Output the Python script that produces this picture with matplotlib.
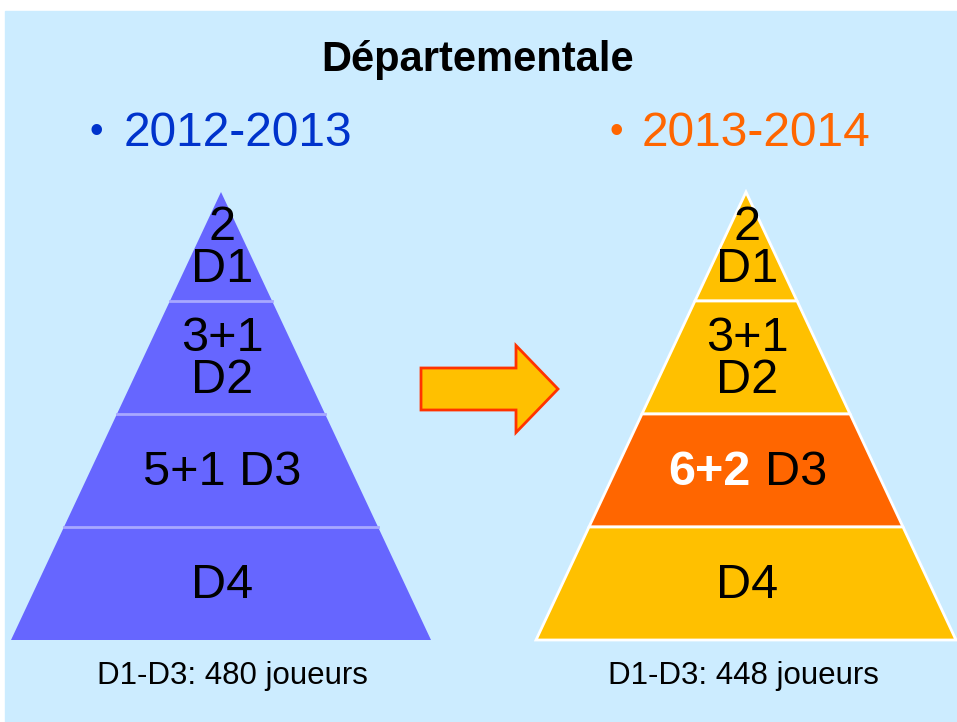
import matplotlib.pyplot as plt
import matplotlib.patches as mpatches

plt.rcParams['font.family'] = ['Liberation Sans', 'DejaVu Sans']

# pyramid data (band boundaries in image pixel units, top to bottom)
band_edges = [192, 301, 414, 527, 640]
left_apex_x = 221
right_apex_x = 746
base_half = 210

left_labels = ["2\nD1", "3+1\nD2", "5+1 D3", "D4"]
right_labels = ["2\nD1", "3+1\nD2", "", "D4"]
right_colors = ["#FFC000", "#FFC000", "#FF6600", "#FFC000"]
left_color = "#6666FF"

years = ["2012-2013", "2013-2014"]
year_colors = ["#0033CC", "#FF6600"]
totals = ["D1-D3: 480 joueurs", "D1-D3: 448 joueurs"]

W, H = 957, 722
fig = plt.figure(figsize=(W / 100, H / 100), dpi=100)
ax = fig.add_axes([0, 0, 1, 1])
ax.set_xlim(0, W)
ax.set_ylim(H, 0)
ax.axis("off")

ax.add_patch(mpatches.Rectangle((5, 11), W, H, color="#CCECFF", zorder=0))


def half_width(y):
    return base_half * (y - band_edges[0]) / (band_edges[-1] - band_edges[0])


def band_poly(cx, i):
    y0, y1 = band_edges[i], band_edges[i + 1]
    w0, w1 = half_width(y0), half_width(y1)
    return [(cx - w0, y0), (cx + w0, y0), (cx + w1, y1), (cx - w1, y1)]


# left pyramid
for i in range(4):
    ax.add_patch(mpatches.Polygon(band_poly(left_apex_x, i), closed=True,
                                  facecolor=left_color, edgecolor="none", zorder=2))
for y in band_edges[1:-1]:
    w = half_width(y)
    ax.plot([left_apex_x - w, left_apex_x + w], [y, y], color="#A8A8FF", lw=2, zorder=3)

# right pyramid
for i in range(4):
    ax.add_patch(mpatches.Polygon(band_poly(right_apex_x, i), closed=True,
                                  facecolor=right_colors[i], edgecolor="white",
                                  lw=2, zorder=2))

# band labels
fs = 35
for i in range(4):
    yc = (band_edges[i] + band_edges[i + 1]) / 2 + 2
    ax.text(left_apex_x + 1, yc, left_labels[i], ha="center", va="center",
            fontsize=fs, linespacing=0.92, zorder=4)
    if right_labels[i]:
        ax.text(right_apex_x + 1, yc, right_labels[i], ha="center", va="center",
                fontsize=fs, linespacing=0.92, zorder=4)
yc = (band_edges[2] + band_edges[3]) / 2 + 2
ax.text(751, yc, "6+2", ha="right", va="center", fontsize=fs,
        fontweight="bold", color="white", zorder=4)
ax.text(765, yc, "D3", ha="left", va="center", fontsize=fs, zorder=4)

# arrow
ax.add_patch(mpatches.FancyArrow(421, 389, 137, 0, width=42, head_width=87,
                                 head_length=42, length_includes_head=True,
                                 facecolor="#FFC000", edgecolor="#FF3300",
                                 lw=2, zorder=3))

# title and years
ax.text(478, 60, "Départementale", ha="center", va="center",
        fontsize=30, fontweight="bold")
for x_b, x_t, yr, c in zip([96, 616], [124, 642], years, year_colors):
    ax.text(x_b, 133, "•", ha="center", va="center", fontsize=28, color=c)
    ax.text(x_t, 133, yr, ha="left", va="center", fontsize=34.5, color=c)

for cx, t in zip([232, 743], totals):
    ax.text(cx, 676, t, ha="center", va="center", fontsize=22.5)

fig.savefig("out.png", dpi=100)
